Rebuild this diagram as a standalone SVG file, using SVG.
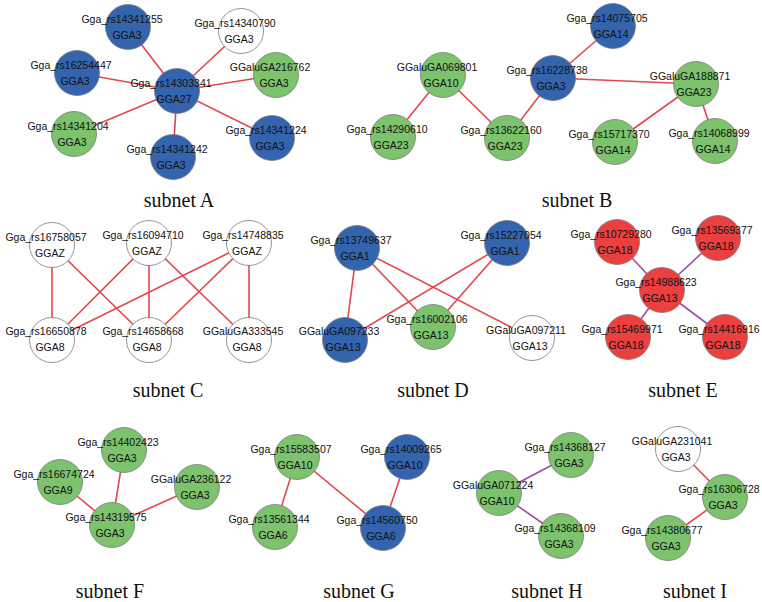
<svg xmlns="http://www.w3.org/2000/svg" width="762" height="602" viewBox="0 0 762 602">
<style>
.bg{fill:#ffffff}
circle{stroke:#7a7a7a;stroke-width:0.8}
.b{fill:#3464ae}
.g{fill:#7dc26d}
.r{fill:#eb3f40}
.w{fill:#ffffff}
.t{font-family:"Liberation Sans",Arial,sans-serif;font-size:10.5px;fill:#111;text-anchor:middle}
.e line{stroke:#e1474c;stroke-width:1.6}
.e line.p{stroke:#9a4ea3}
.title{font-family:"Liberation Serif","Times New Roman",serif;font-size:20px;fill:#111;text-anchor:middle}
</style>
<rect class="bg" width="762" height="602"/>
<g id="connectors" class="e">
<!-- A -->
<line x1="177" y1="91" x2="128" y2="27"/>
<line x1="177" y1="91" x2="241" y2="31"/>
<line x1="177" y1="91" x2="77" y2="73"/>
<line x1="177" y1="91" x2="276" y2="75"/>
<line x1="177" y1="91" x2="74" y2="134"/>
<line x1="177" y1="91" x2="173" y2="157"/>
<line x1="177" y1="91" x2="272" y2="138"/>
<!-- B -->
<line x1="443" y1="75" x2="393" y2="137"/>
<line x1="443" y1="75" x2="507" y2="138"/>
<line x1="507" y1="138" x2="553" y2="78"/>
<line x1="553" y1="78" x2="613" y2="26"/>
<line x1="553" y1="78" x2="696" y2="84"/>
<line x1="696" y1="84" x2="615" y2="142"/>
<line x1="696" y1="84" x2="715" y2="141"/>
<!-- C -->
<line x1="52" y1="245" x2="52" y2="340"/>
<line x1="52" y1="245" x2="149" y2="340"/>
<line x1="149" y1="243" x2="52" y2="340"/>
<line x1="149" y1="243" x2="149" y2="340"/>
<line x1="149" y1="243" x2="249" y2="340"/>
<line x1="249" y1="243" x2="52" y2="340"/>
<line x1="249" y1="243" x2="149" y2="340"/>
<line x1="249" y1="243" x2="249" y2="340"/>
<!-- D -->
<line x1="357" y1="248" x2="345" y2="340"/>
<line x1="357" y1="248" x2="433" y2="327"/>
<line x1="357" y1="248" x2="532" y2="338"/>
<line x1="507" y1="243" x2="345" y2="340"/>
<line x1="507" y1="243" x2="433" y2="327"/>
<!-- E -->
<line class="p" x1="662" y1="290" x2="617" y2="242"/>
<line class="p" x1="662" y1="290" x2="718" y2="238"/>
<line class="p" x1="662" y1="290" x2="628" y2="337"/>
<line class="p" x1="662" y1="290" x2="725" y2="337"/>
<!-- F -->
<line x1="112" y1="525" x2="124" y2="450"/>
<line x1="112" y1="525" x2="60" y2="482"/>
<line x1="112" y1="525" x2="197" y2="487"/>
<!-- G -->
<line x1="297" y1="457" x2="275" y2="527"/>
<line x1="297" y1="457" x2="383" y2="528"/>
<line x1="407" y1="457" x2="383" y2="528"/>
<!-- H -->
<line class="p" x1="499" y1="493" x2="571" y2="455"/>
<line class="p" x1="499" y1="493" x2="561" y2="536"/>
<!-- I -->
<line x1="678" y1="449" x2="725" y2="497"/>
<line x1="725" y1="497" x2="668" y2="538"/>
</g>

<!-- subnet A -->
<g id="A_rs14341255"><circle class="b" cx="128" cy="27" r="22.5"/><text class="t" x="122" y="23">Gga_rs14341255</text><text class="t" x="127" y="39">GGA3</text></g>
<g id="A_rs14340790"><circle class="w" cx="241" cy="31" r="22.5"/><text class="t" x="235" y="27">Gga_rs14340790</text><text class="t" x="239" y="43">GGA3</text></g>
<g id="A_rs16254447"><circle class="b" cx="77" cy="73" r="22.5"/><text class="t" x="71" y="69">Gga_rs16254447</text><text class="t" x="75" y="85">GGA3</text></g>
<g id="A_rs14303341"><circle class="b" cx="177" cy="91" r="22.5"/><text class="t" x="171" y="87">Gga_rs14303341</text><text class="t" x="174" y="103">GGA27</text></g>
<g id="A_GGaluGA216762"><circle class="g" cx="276" cy="75" r="22.5"/><text class="t" x="270" y="71">GGaluGA216762</text><text class="t" x="274" y="87">GGA3</text></g>
<g id="A_rs14341204"><circle class="g" cx="74" cy="134" r="22.5"/><text class="t" x="68" y="130">Gga_rs14341204</text><text class="t" x="72" y="146">GGA3</text></g>
<g id="A_rs14341242"><circle class="b" cx="173" cy="157" r="22.5"/><text class="t" x="167" y="153">Gga_rs14341242</text><text class="t" x="171" y="169">GGA3</text></g>
<g id="A_rs14341224"><circle class="b" cx="272" cy="138" r="22.5"/><text class="t" x="266" y="134">Gga_rs14341224</text><text class="t" x="270" y="150">GGA3</text></g>

<!-- subnet B -->
<g id="B_GGaluGA069801"><circle class="g" cx="443" cy="75" r="22.5"/><text class="t" x="437" y="71">GGaluGA069801</text><text class="t" x="441" y="87">GGA10</text></g>
<g id="B_rs14290610"><circle class="g" cx="393" cy="137" r="22.5"/><text class="t" x="387" y="133">Gga_rs14290610</text><text class="t" x="391" y="149">GGA23</text></g>
<g id="B_rs13622160"><circle class="g" cx="507" cy="138" r="22.5"/><text class="t" x="501" y="134">Gga_rs13622160</text><text class="t" x="505" y="150">GGA23</text></g>
<g id="B_rs16228738"><circle class="b" cx="553" cy="78" r="22.5"/><text class="t" x="547" y="74">Gga_rs16228738</text><text class="t" x="551" y="90">GGA3</text></g>
<g id="B_rs14075705"><circle class="b" cx="613" cy="26" r="22.5"/><text class="t" x="607" y="22">Gga_rs14075705</text><text class="t" x="611" y="38">GGA14</text></g>
<g id="B_GGaluGA188871"><circle class="g" cx="696" cy="84" r="22.5"/><text class="t" x="690" y="80">GGaluGA188871</text><text class="t" x="694" y="96">GGA23</text></g>
<g id="B_rs15717370"><circle class="g" cx="615" cy="142" r="22.5"/><text class="t" x="609" y="138">Gga_rs15717370</text><text class="t" x="613" y="154">GGA14</text></g>
<g id="B_rs14068999"><circle class="g" cx="715" cy="141" r="22.5"/><text class="t" x="709" y="137">Gga_rs14068999</text><text class="t" x="713" y="153">GGA14</text></g>

<!-- subnet C -->
<g id="C_rs16758057"><circle class="w" cx="52" cy="245" r="22.5"/><text class="t" x="46" y="241">Gga_rs16758057</text><text class="t" x="50" y="257">GGAZ</text></g>
<g id="C_rs16094710"><circle class="w" cx="149" cy="243" r="22.5"/><text class="t" x="143" y="239">Gga_rs16094710</text><text class="t" x="147" y="255">GGAZ</text></g>
<g id="C_rs14748835"><circle class="w" cx="249" cy="243" r="22.5"/><text class="t" x="243" y="239">Gga_rs14748835</text><text class="t" x="247" y="255">GGAZ</text></g>
<g id="C_rs16650878"><circle class="w" cx="52" cy="340" r="22.5"/><text class="t" x="46" y="335">Gga_rs16650878</text><text class="t" x="50" y="351">GGA8</text></g>
<g id="C_rs14658668"><circle class="w" cx="149" cy="340" r="22.5"/><text class="t" x="143" y="335">Gga_rs14658668</text><text class="t" x="147" y="351">GGA8</text></g>
<g id="C_GGaluGA333545"><circle class="w" cx="249" cy="340" r="22.5"/><text class="t" x="243" y="335">GGaluGA333545</text><text class="t" x="247" y="351">GGA8</text></g>

<!-- subnet D -->
<g id="D_rs13749637"><circle class="b" cx="357" cy="248" r="22.5"/><text class="t" x="351" y="244">Gga_rs13749637</text><text class="t" x="355" y="260">GGA1</text></g>
<g id="D_rs15227054"><circle class="b" cx="507" cy="243" r="22.5"/><text class="t" x="501" y="239">Gga_rs15227054</text><text class="t" x="505" y="255">GGA1</text></g>
<g id="D_GGaluGA097233"><circle class="b" cx="345" cy="340" r="22.5"/><text class="t" x="339" y="335">GGaluGA097233</text><text class="t" x="343" y="351">GGA13</text></g>
<g id="D_rs16002106"><circle class="g" cx="433" cy="327" r="22.5"/><text class="t" x="427" y="323">Gga_rs16002106</text><text class="t" x="431" y="339">GGA13</text></g>
<g id="D_GGaluGA097211"><circle class="w" cx="532" cy="338" r="22.5"/><text class="t" x="526" y="334">GGaluGA097211</text><text class="t" x="530" y="350">GGA13</text></g>

<!-- subnet E -->
<g id="E_rs10729280"><circle class="r" cx="617" cy="242" r="22.5"/><text class="t" x="611" y="238">Gga_rs10729280</text><text class="t" x="615" y="254">GGA18</text></g>
<g id="E_rs13569377"><circle class="r" cx="718" cy="238" r="22.5"/><text class="t" x="712" y="234">Gga_rs13569377</text><text class="t" x="716" y="250">GGA18</text></g>
<g id="E_rs14988623"><circle class="r" cx="662" cy="290" r="22.5"/><text class="t" x="656" y="286">Gga_rs14988623</text><text class="t" x="660" y="302">GGA13</text></g>
<g id="E_rs15469971"><circle class="r" cx="628" cy="337" r="22.5"/><text class="t" x="622" y="333">Gga_rs15469971</text><text class="t" x="626" y="349">GGA18</text></g>
<g id="E_rs14416916"><circle class="r" cx="725" cy="337" r="22.5"/><text class="t" x="719" y="333">Gga_rs14416916</text><text class="t" x="723" y="349">GGA18</text></g>

<!-- subnet F -->
<g id="F_rs14402423"><circle class="g" cx="124" cy="450" r="22.5"/><text class="t" x="118" y="446">Gga_rs14402423</text><text class="t" x="122" y="462">GGA3</text></g>
<g id="F_rs16674724"><circle class="g" cx="60" cy="482" r="22.5"/><text class="t" x="54" y="478">Gga_rs16674724</text><text class="t" x="58" y="494">GGA9</text></g>
<g id="F_GGaluGA236122"><circle class="g" cx="197" cy="487" r="22.5"/><text class="t" x="191" y="483">GGaluGA236122</text><text class="t" x="195" y="499">GGA3</text></g>
<g id="F_rs14319575"><circle class="g" cx="112" cy="525" r="22.5"/><text class="t" x="106" y="521">Gga_rs14319575</text><text class="t" x="110" y="537">GGA3</text></g>

<!-- subnet G -->
<g id="G_rs15583507"><circle class="g" cx="297" cy="457" r="22.5"/><text class="t" x="291" y="453">Gga_rs15583507</text><text class="t" x="295" y="469">GGA10</text></g>
<g id="G_rs14009265"><circle class="b" cx="407" cy="457" r="22.5"/><text class="t" x="401" y="453">Gga_rs14009265</text><text class="t" x="405" y="469">GGA10</text></g>
<g id="G_rs13561344"><circle class="g" cx="275" cy="527" r="22.5"/><text class="t" x="269" y="523">Gga_rs13561344</text><text class="t" x="273" y="539">GGA6</text></g>
<g id="G_rs14560750"><circle class="b" cx="383" cy="528" r="22.5"/><text class="t" x="377" y="524">Gga_rs14560750</text><text class="t" x="381" y="540">GGA6</text></g>

<!-- subnet H -->
<g id="H_rs14368127"><circle class="g" cx="571" cy="455" r="22.5"/><text class="t" x="565" y="451">Gga_rs14368127</text><text class="t" x="569" y="467">GGA3</text></g>
<g id="H_GGaluGA071224"><circle class="g" cx="499" cy="493" r="22.5"/><text class="t" x="493" y="489">GGaluGA071224</text><text class="t" x="497" y="505">GGA10</text></g>
<g id="H_rs14368109"><circle class="g" cx="561" cy="536" r="22.5"/><text class="t" x="555" y="532">Gga_rs14368109</text><text class="t" x="559" y="548">GGA3</text></g>

<!-- subnet I -->
<g id="I_GGaluGA231041"><circle class="w" cx="678" cy="449" r="22.5"/><text class="t" x="672" y="445">GGaluGA231041</text><text class="t" x="676" y="461">GGA3</text></g>
<g id="I_rs16306728"><circle class="g" cx="725" cy="497" r="22.5"/><text class="t" x="719" y="493">Gga_rs16306728</text><text class="t" x="723" y="509">GGA3</text></g>
<g id="I_rs14380677"><circle class="g" cx="668" cy="538" r="22.5"/><text class="t" x="662" y="534">Gga_rs14380677</text><text class="t" x="666" y="550">GGA3</text></g>

<g id="titles">
<text class="title" x="179" y="207">subnet A</text>
<text class="title" x="577" y="207">subnet B</text>
<text class="title" x="168" y="397">subnet C</text>
<text class="title" x="433" y="397">subnet D</text>
<text class="title" x="683" y="397">subnet E</text>
<text class="title" x="110" y="598">subnet F</text>
<text class="title" x="359" y="598">subnet G</text>
<text class="title" x="547" y="598">subnet H</text>
<text class="title" x="695" y="598">subnet I</text>
</g>
</svg>
